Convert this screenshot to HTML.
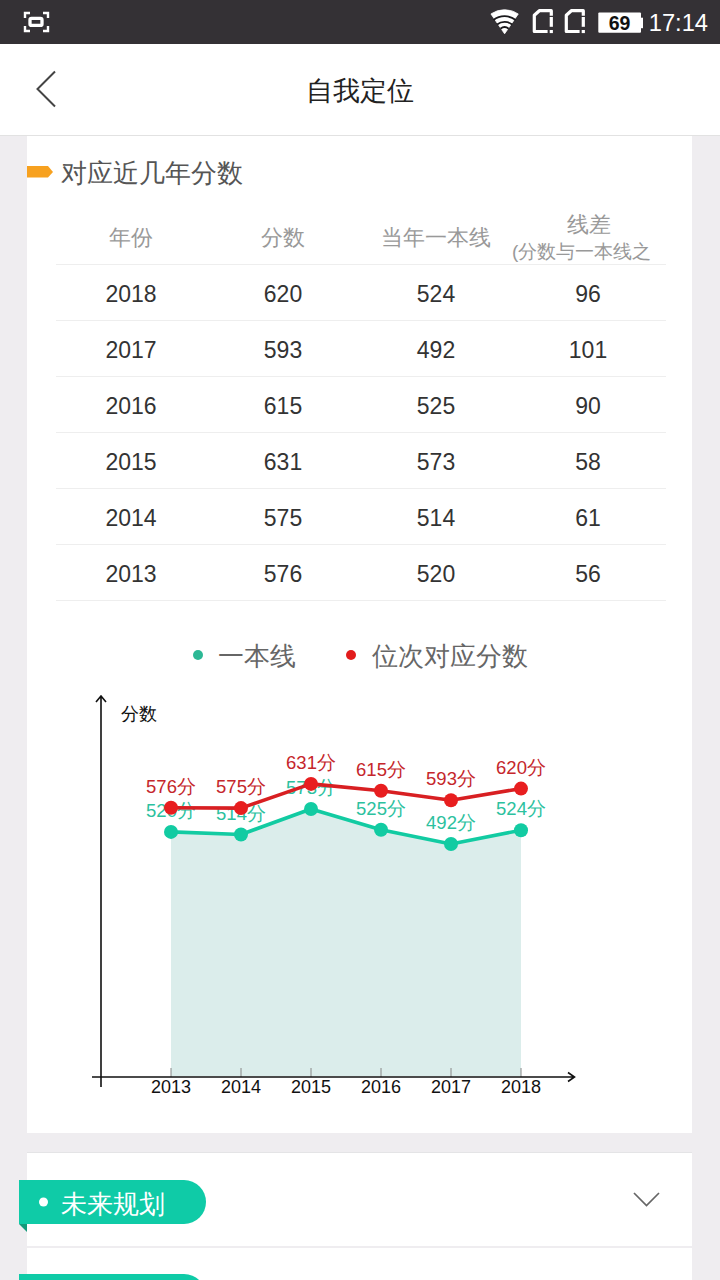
<!DOCTYPE html>
<html><head><meta charset="utf-8">
<style>
*{margin:0;padding:0;box-sizing:border-box}
html,body{width:720px;height:1280px;overflow:hidden;background:#efedf0;font-family:"Liberation Sans",sans-serif}
.abs{position:absolute}
#sb{left:0;top:0;width:720px;height:44px;background:#343135}
#hd{left:0;top:44px;width:720px;height:92px;background:#fff;border-bottom:1px solid #e2e2e2}
#hd .t{left:0;width:720px;top:1px;line-height:92px;text-align:center;font-size:27px;color:#222}
.card{background:#fff;left:27px;width:665px}
.cell{position:absolute;text-align:center;width:152px}
.hdr{color:#999;font-size:22px}
.row{color:#333;font-size:23px;padding-top:2px}
.ln{position:absolute;left:56px;width:610px;height:1px;background:#eeeeee}
</style></head><body>
<div id="sb" class="abs">
  <svg class="abs" style="left:0;top:0" width="720" height="44" viewBox="0 0 720 44">
    <g fill="none" stroke="#fff" stroke-width="2.4">
      <path d="M25 18v-5h5M43 13h5v5M48 26v5h-5M30 31h-5v-5"/>
      <rect x="30" y="18.4" width="12" height="7" rx="1.5" stroke-width="3.3"/>
    </g><path d="M504.60 33.80 L490.95 13.94 A24.10 24.10 0 0 1 518.25 13.94 Z" fill="#fff" stroke="#fff" stroke-width="0.8" stroke-linejoin="round"/><path d="M493.44 20.06 A17.70 17.70 0 0 1 515.76 20.06" fill="none" stroke="#1a191c" stroke-width="1.9"/><path d="M497.10 24.56 A11.90 11.90 0 0 1 512.10 24.56" fill="none" stroke="#1a191c" stroke-width="1.9"/><path d="M500.50 28.75 A6.50 6.50 0 0 1 508.70 28.75" fill="none" stroke="#1a191c" stroke-width="1.9"/><g transform="translate(0 0)"><path d="M547.6 31.5H534.3V15.3L539.3 10.7H551.3V15.7" fill="none" stroke="#fff" stroke-width="3.2" stroke-linejoin="round"/><rect x="549.7" y="17" width="3.2" height="9.8" fill="#fff"/><rect x="549.7" y="30" width="3.2" height="3.1" fill="#fff"/></g><g transform="translate(32 0)"><path d="M547.6 31.5H534.3V15.3L539.3 10.7H551.3V15.7" fill="none" stroke="#fff" stroke-width="3.2" stroke-linejoin="round"/><rect x="549.7" y="17" width="3.2" height="9.8" fill="#fff"/><rect x="549.7" y="30" width="3.2" height="3.1" fill="#fff"/></g><rect x="598.3" y="12.6" width="42.7" height="20.2" rx="1" fill="#fff"/><rect x="640" y="17.7" width="3" height="10.5" fill="#fff"/><text x="619.5" y="29.6" font-family="Liberation Sans, sans-serif" font-size="19.5" font-weight="bold" text-anchor="middle" fill="#111">69</text><text x="708" y="30.5" font-family="Liberation Sans, sans-serif" font-size="23.7" text-anchor="end" fill="#fff">17:14</text>
  </svg>
</div>
<div id="hd" class="abs">
  <svg class="abs" style="left:0;top:0" width="80" height="92" viewBox="0 44 80 92">
    <path d="M55 71.5L37.5 89L55 106.5" fill="none" stroke="#444" stroke-width="2"/>
  </svg>
  <div class="abs t">自我定位</div>
</div>

<div class="abs card" style="top:136px;height:997px"></div>
<svg class="abs" style="left:27px;top:166px" width="27" height="12" viewBox="0 0 27 12"><path d="M0 0H21L26 6L21 11.5H0Z" fill="#f7a11f"/></svg>
<div class="abs" style="left:61px;top:157px;font-size:26px;line-height:32px;color:#555">对应近几年分数</div>
<div class="cell hdr" style="left:55px;top:225px;line-height:26px">年份</div>
<div class="cell hdr" style="left:207px;top:225px;line-height:26px">分数</div>
<div class="cell hdr" style="left:360px;top:225px;line-height:26px">当年一本线</div>
<div class="cell hdr" style="left:513px;top:212px;line-height:26px">线差</div>
<div class="cell hdr" style="left:512px;top:240px;line-height:24px;font-size:19px;width:172px;white-space:nowrap;text-align:left">(分数与一本线之</div>
<div class="ln" style="top:264px"></div>
<div class="cell row" style="left:55px;top:264px;line-height:56px">2018</div><div class="cell row" style="left:207px;top:264px;line-height:56px">620</div><div class="cell row" style="left:360px;top:264px;line-height:56px">524</div><div class="cell row" style="left:512px;top:264px;line-height:56px">96</div><div class="ln" style="top:320px"></div>
<div class="cell row" style="left:55px;top:320px;line-height:56px">2017</div><div class="cell row" style="left:207px;top:320px;line-height:56px">593</div><div class="cell row" style="left:360px;top:320px;line-height:56px">492</div><div class="cell row" style="left:512px;top:320px;line-height:56px">101</div><div class="ln" style="top:376px"></div>
<div class="cell row" style="left:55px;top:376px;line-height:56px">2016</div><div class="cell row" style="left:207px;top:376px;line-height:56px">615</div><div class="cell row" style="left:360px;top:376px;line-height:56px">525</div><div class="cell row" style="left:512px;top:376px;line-height:56px">90</div><div class="ln" style="top:432px"></div>
<div class="cell row" style="left:55px;top:432px;line-height:56px">2015</div><div class="cell row" style="left:207px;top:432px;line-height:56px">631</div><div class="cell row" style="left:360px;top:432px;line-height:56px">573</div><div class="cell row" style="left:512px;top:432px;line-height:56px">58</div><div class="ln" style="top:488px"></div>
<div class="cell row" style="left:55px;top:488px;line-height:56px">2014</div><div class="cell row" style="left:207px;top:488px;line-height:56px">575</div><div class="cell row" style="left:360px;top:488px;line-height:56px">514</div><div class="cell row" style="left:512px;top:488px;line-height:56px">61</div><div class="ln" style="top:544px"></div>
<div class="cell row" style="left:55px;top:544px;line-height:56px">2013</div><div class="cell row" style="left:207px;top:544px;line-height:56px">576</div><div class="cell row" style="left:360px;top:544px;line-height:56px">520</div><div class="cell row" style="left:512px;top:544px;line-height:56px">56</div><div class="ln" style="top:600px"></div>

<div class="abs" style="left:193px;top:650px;width:10px;height:10px;border-radius:50%;background:#2cb895"></div>
<div class="abs" style="left:218px;top:640px;font-size:26px;line-height:32px;color:#666">一本线</div>
<div class="abs" style="left:346px;top:650px;width:10px;height:10px;border-radius:50%;background:#e21c1c"></div>
<div class="abs" style="left:372px;top:640px;font-size:26px;line-height:32px;color:#666">位次对应分数</div>
<div class="abs" style="left:121px;top:702px;font-size:18px;line-height:24px;color:#111">分数</div>
<svg class="abs" style="left:0;top:680px" width="720" height="440" viewBox="0 680 720 440"><polygon points="171,1076 171,831.9 241,834.5 311,809.0 381,829.7 451,844.0 521,830.2 521,1076" fill="#dbedeb"/><line x1="171" y1="1068" x2="171" y2="1077" stroke="#888" stroke-width="1"/><line x1="241" y1="1068" x2="241" y2="1077" stroke="#888" stroke-width="1"/><line x1="311" y1="1068" x2="311" y2="1077" stroke="#888" stroke-width="1"/><line x1="381" y1="1068" x2="381" y2="1077" stroke="#888" stroke-width="1"/><line x1="451" y1="1068" x2="451" y2="1077" stroke="#888" stroke-width="1"/><line x1="521" y1="1068" x2="521" y2="1077" stroke="#888" stroke-width="1"/><path d="M101 1087V696M96 702L101 696L106 702" fill="none" stroke="#111" stroke-width="1.6"/><path d="M92 1077H574M568 1072.5L574.5 1077L568 1081.5" fill="none" stroke="#111" stroke-width="1.6"/><g font-family="Liberation Sans, sans-serif" font-size="18" text-anchor="middle"><text x="171" y="1093" fill="#111">2013</text><text x="241" y="1093" fill="#111">2014</text><text x="311" y="1093" fill="#111">2015</text><text x="381" y="1093" fill="#111">2016</text><text x="451" y="1093" fill="#111">2017</text><text x="521" y="1093" fill="#111">2018</text></g><g font-family="Liberation Sans, sans-serif" font-size="18.5" text-anchor="middle"><polyline points="171,831.9 241,834.5 311,809.0 381,829.7 451,844.0 521,830.2" fill="none" stroke="#12cba2" stroke-width="3.6" stroke-linejoin="round"/><circle cx="171" cy="831.9" r="7" fill="#12cba2"/><circle cx="241" cy="834.5" r="7" fill="#12cba2"/><circle cx="311" cy="809.0" r="7" fill="#12cba2"/><circle cx="381" cy="829.7" r="7" fill="#12cba2"/><circle cx="451" cy="844.0" r="7" fill="#12cba2"/><circle cx="521" cy="830.2" r="7" fill="#12cba2"/><text x="171" y="816.9" fill="#2cc19e">520分</text><text x="241" y="819.5" fill="#2cc19e">514分</text><text x="311" y="794.0" fill="#2cc19e">573分</text><text x="381" y="814.7" fill="#2cc19e">525分</text><text x="451" y="829.0" fill="#2cc19e">492分</text><text x="521" y="815.2" fill="#2cc19e">524分</text><polyline points="171,807.7 241,808.1 311,783.9 381,790.8 451,800.3 521,788.6" fill="none" stroke="#d81f22" stroke-width="3.6" stroke-linejoin="round"/><circle cx="171" cy="807.7" r="7" fill="#e81e1f"/><circle cx="241" cy="808.1" r="7" fill="#e81e1f"/><circle cx="311" cy="783.9" r="7" fill="#e81e1f"/><circle cx="381" cy="790.8" r="7" fill="#e81e1f"/><circle cx="451" cy="800.3" r="7" fill="#e81e1f"/><circle cx="521" cy="788.6" r="7" fill="#e81e1f"/><text x="171" y="792.7" fill="#c5262b">576分</text><text x="241" y="793.1" fill="#c5262b">575分</text><text x="311" y="768.9" fill="#c5262b">631分</text><text x="381" y="775.8" fill="#c5262b">615分</text><text x="451" y="785.3" fill="#c5262b">593分</text><text x="521" y="773.6" fill="#c5262b">620分</text></g></svg>
<div class="abs card" style="top:1152px;height:94px;border-top:1px solid #e4e4e6"></div>
<div class="abs card" style="top:1248px;height:40px"></div>
<svg class="abs" style="left:19px;top:1180px" width="188" height="53" viewBox="19 1180 188 53"><path d="M19 1224L27 1232V1224Z" fill="#139a7a"/><path d="M19 1180H184A22 22 0 0 1 184 1224H19Z" fill="#0fcba7"/><circle cx="43.5" cy="1202" r="4.5" fill="#fff"/></svg>
<div class="abs" style="left:61px;top:1188px;font-size:26px;line-height:32px;color:#fff">未来规划</div>
<svg class="abs" style="left:19px;top:1274px" width="188" height="6" viewBox="19 1274 188 6"><path d="M19 1274H184A22 22 0 0 1 184 1318H19Z" fill="#0fcba7"/></svg>
<svg class="abs" style="left:630px;top:1188px" width="34" height="22" viewBox="630 1188 34 22"><path d="M634 1193L646.5 1205.5L659 1193" fill="none" stroke="#666" stroke-width="1.7"/></svg>
</body></html>
